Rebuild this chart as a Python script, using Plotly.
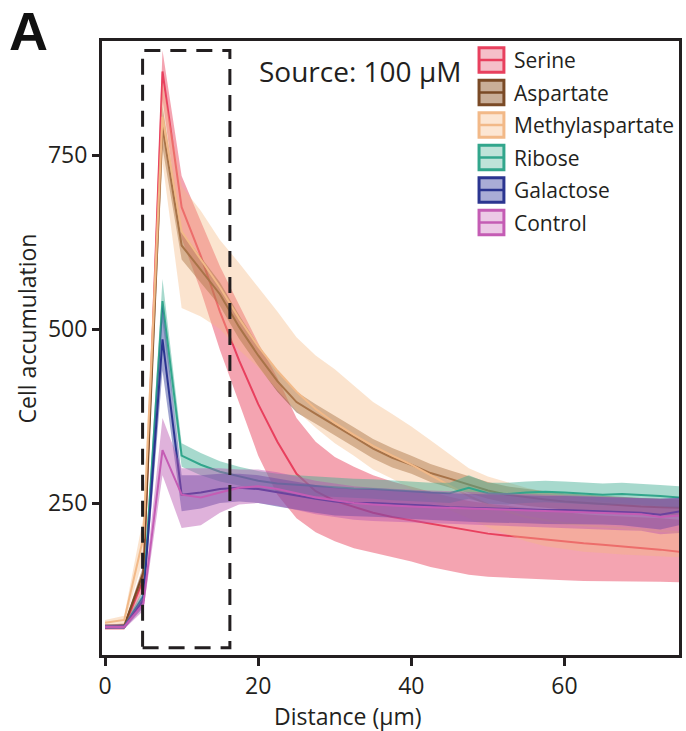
import plotly.graph_objects as go

# Distance from the source (µm), sampled every 2.5 µm
distance = [0, 2.5, 5, 7.5, 10, 12.5, 15, 17.5, 20, 22.5, 25, 27.5, 30, 32.5, 35,
            37.5, 40, 42.5, 45, 47.5, 50, 52.5, 55, 57.5, 60, 62.5, 65, 67.5, 70, 72.5, 75]

series_names = ["Serine", "Aspartate", "Methylaspartate", "Ribose", "Galactose", "Control"]

serine_mean = [72, 72, 140, 870, 675, 605, 525, 455, 392, 338, 292, 267, 253, 244, 236,
               230, 225, 220, 215, 210, 206, 203, 200, 197, 194, 192, 190, 188, 186, 183, 180]
serine_upper = [76, 76, 155, 900, 720, 655, 590, 535, 480, 430, 372, 338, 316, 302, 290,
                281, 273, 266, 259, 253, 249, 246, 243, 239, 236, 234, 232, 231, 230, 228, 226]
serine_lower = [68, 68, 125, 830, 630, 555, 470, 395, 318, 262, 228, 208, 195, 185, 178,
                172, 166, 158, 152, 147, 144, 142, 141, 140, 139, 138, 138, 138, 137, 137, 136]

aspartate_mean = [72, 74, 150, 790, 620, 585, 550, 503, 462, 425, 395, 378, 362, 345, 328,
                  315, 305, 293, 285, 276, 268, 262, 258, 255, 252, 250, 248, 246, 245, 244, 243]
aspartate_upper = [75, 77, 160, 820, 640, 603, 567, 520, 477, 440, 410, 392, 376, 359, 342,
                   329, 318, 306, 297, 288, 280, 274, 270, 267, 264, 262, 260, 258, 257, 256, 255]
aspartate_lower = [69, 71, 140, 760, 600, 567, 533, 486, 447, 410, 380, 364, 348, 331, 314,
                   301, 292, 280, 273, 264, 256, 250, 246, 243, 240, 238, 236, 234, 233, 232, 231]

methyl_mean = [78, 82, 200, 805, 640, 600, 560, 515, 475, 440, 410, 385, 365, 348, 332,
               318, 305, 290, 275, 260, 248, 238, 230, 225, 221, 218, 216, 214, 212, 210, 208]
methyl_upper = [82, 88, 230, 855, 705, 670, 628, 595, 560, 525, 488, 462, 442, 418, 395,
                378, 360, 340, 320, 300, 288, 280, 272, 266, 260, 256, 252, 250, 248, 246, 245]
methyl_lower = [74, 76, 170, 740, 530, 518, 500, 470, 445, 412, 383, 358, 336, 318, 298,
                285, 270, 255, 240, 228, 215, 205, 195, 188, 184, 180, 178, 176, 174, 173, 172]

ribose_mean = [72, 72, 115, 540, 318, 305, 295, 288, 282, 278, 276, 274, 273, 271, 270,
               268, 266, 265, 264, 272, 264, 263, 265, 266, 265, 263, 262, 263, 262, 260, 258]
ribose_upper = [75, 75, 125, 572, 336, 322, 310, 302, 296, 292, 290, 288, 287, 285, 284,
                282, 280, 279, 279, 290, 279, 279, 281, 282, 281, 279, 278, 279, 278, 276, 274]
ribose_lower = [69, 69, 105, 510, 302, 290, 281, 275, 269, 265, 262, 260, 259, 257, 256,
                254, 252, 251, 250, 256, 249, 248, 250, 251, 250, 248, 247, 248, 247, 245, 243]

galactose_mean = [72, 72, 110, 485, 262, 265, 270, 272, 270, 265, 260, 256, 252, 250, 250,
                  249, 247, 246, 244, 243, 242, 241, 241, 240, 240, 239, 239, 238, 236, 233, 238]
galactose_upper = [75, 75, 120, 535, 290, 290, 292, 292, 290, 285, 280, 276, 272, 270, 270,
                   269, 267, 266, 264, 263, 262, 261, 261, 260, 260, 259, 259, 258, 257, 256, 258]
galactose_lower = [69, 69, 100, 440, 238, 242, 250, 252, 250, 245, 240, 236, 232, 230, 230,
                   229, 227, 226, 224, 223, 222, 221, 221, 220, 220, 219, 219, 218, 215, 212, 218]

control_mean = [72, 72, 105, 326, 262, 258, 265, 272, 274, 270, 264, 258, 254, 250, 248,
                246, 245, 244, 243, 242, 241, 240, 239, 238, 237, 236, 236, 235, 234, 230, 232]
control_upper = [75, 75, 115, 372, 300, 300, 300, 298, 298, 294, 288, 282, 278, 274, 272,
                 270, 269, 268, 267, 266, 265, 264, 263, 262, 261, 260, 260, 259, 258, 256, 257]
control_lower = [69, 69, 95, 290, 214, 218, 236, 248, 250, 246, 240, 234, 230, 226, 224,
                 222, 221, 220, 219, 218, 217, 216, 215, 214, 213, 212, 212, 211, 210, 205, 207]

y_ticks = [250, 500, 750]
x_ticks = [0, 20, 40, 60]

means = [serine_mean, aspartate_mean, methyl_mean, ribose_mean, galactose_mean, control_mean]
uppers = [serine_upper, aspartate_upper, methyl_upper, ribose_upper, galactose_upper, control_upper]
lowers = [serine_lower, aspartate_lower, methyl_lower, ribose_lower, galactose_lower, control_lower]

line_colors = ["#e8405e", "#7a4a26", "#f2b988", "#32a68c", "#2b3590", "#c45cb4"]
band_colors = ["rgba(233,65,93,0.48)", "rgba(130,80,40,0.48)", "rgba(245,185,130,0.38)",
               "rgba(60,170,145,0.45)", "rgba(45,55,150,0.45)", "rgba(185,85,175,0.45)"]
legend_fills = ["#f5bfc9", "#c9ae98", "#fce6d3", "#bfe3d9", "#a9acd6", "#ecc9e6"]

FONT = "Open Sans"
TEXT = "#231f20"

fig = go.Figure()

for name, m, up, lo, lc, bc in zip(series_names, means, uppers, lowers, line_colors, band_colors):
    fig.add_trace(go.Scatter(
        x=distance + distance[::-1], y=up + lo[::-1], fill="toself", fillcolor=bc,
        line=dict(width=0), mode="lines", hoverinfo="skip", showlegend=False))
    fig.add_trace(go.Scatter(
        x=distance, y=m, mode="lines", line=dict(color=lc, width=2),
        name=name, showlegend=False))

# Plot-area geometry in pixels (figure is 686 x 731)
L, R, T, B = 102, 682, 41, 655
W, H = R - L, B - T


def px(xp):
    return (xp - L) / W


def py(yp):
    return (B - yp) / H


shapes = []
annotations = []

# Dashed box marking the peak region
shapes.append(dict(type="rect", xref="x", yref="y", x0=4.9, x1=16.3, y0=42, y1=900,
                   line=dict(color="#231f20", width=3, dash="16px,10px"), layer="above"))

# Legend drawn as boxes with a centre stroke
for i, (name, lc, lf) in enumerate(zip(series_names, line_colors, legend_fills)):
    top = 46.7 + 32.5 * i
    bot = top + 26.6
    mid = (top + bot) / 2
    shapes.append(dict(type="rect", xref="paper", yref="paper",
                       x0=px(481), x1=px(506), y0=py(bot - 1), y1=py(top + 1),
                       fillcolor=lf, line=dict(color=lc, width=3), layer="above"))
    shapes.append(dict(type="line", xref="paper", yref="paper",
                       x0=px(481), x1=px(506), y0=py(mid), y1=py(mid),
                       line=dict(color=lc, width=2.5), layer="above"))
    annotations.append(dict(xref="paper", yref="paper", x=px(514), y=py(mid),
                            xanchor="left", yanchor="middle", showarrow=False,
                            text=name, font=dict(family=FONT, size=21, color=TEXT)))

annotations.append(dict(xref="paper", yref="paper", x=px(258), y=py(71),
                        xanchor="left", yanchor="middle", showarrow=False,
                        text="Source: 100 µM", font=dict(family=FONT, size=28, color=TEXT)))
annotations.append(dict(xref="paper", yref="paper", x=px(7), y=py(31),
                        xanchor="left", yanchor="middle", showarrow=False,
                        text="<b>A</b>", font=dict(family="Liberation Sans", size=54, color="#111")))
annotations.append(dict(xref="paper", yref="paper", x=px(27), y=py(328),
                        xanchor="center", yanchor="middle", showarrow=False, textangle=-90,
                        text="Cell accumulation", font=dict(family=FONT, size=23, color=TEXT)))
annotations.append(dict(xref="paper", yref="paper", x=px(349), y=py(716),
                        xanchor="center", yanchor="middle", showarrow=False,
                        text="Distance (µm)", font=dict(family=FONT, size=23, color=TEXT)))

fig.update_layout(
    width=686, height=731,
    margin=dict(l=L, r=686 - R, t=T, b=731 - B),
    plot_bgcolor="white", paper_bgcolor="white",
    showlegend=False,
    shapes=shapes, annotations=annotations,
    xaxis=dict(range=[-0.4, 74.95], tickvals=x_ticks, showgrid=False, zeroline=False,
               showline=True, mirror=True, linecolor="#231f20", linewidth=3,
               ticks="outside", ticklen=8, tickwidth=2.5, tickcolor="#231f20",
               tickfont=dict(family=FONT, size=23, color=TEXT)),
    yaxis=dict(range=[31.6, 913.8], tickvals=y_ticks, showgrid=False, zeroline=False,
               showline=True, mirror=True, linecolor="#231f20", linewidth=3,
               ticks="outside", ticklen=7, tickwidth=2.5, tickcolor="#231f20",
               tickfont=dict(family=FONT, size=23, color=TEXT)),
)

fig.write_html("out.html")
